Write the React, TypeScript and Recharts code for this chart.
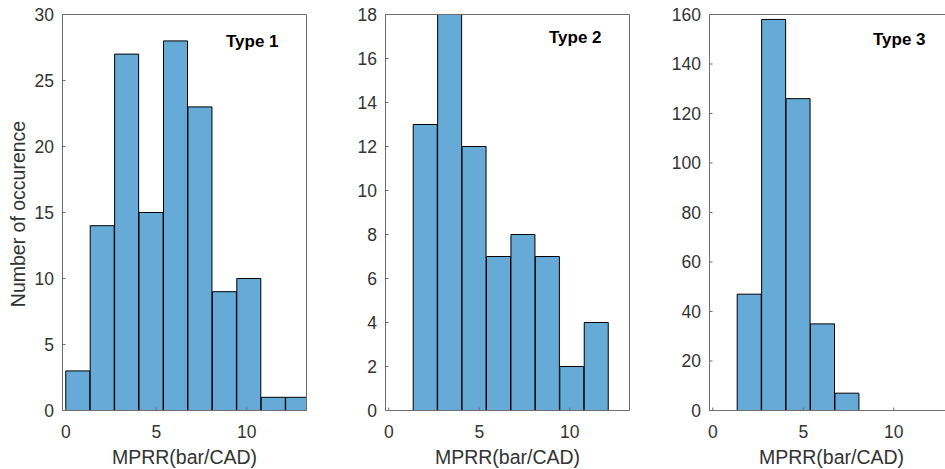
import React from 'react';
import { ComposedChart, Bar, XAxis, YAxis, ReferenceDot } from 'recharts';

// Histogram bins (MPRR, bar/CAD): bin centres and counts for each engine type
const type1Centers = [0.675, 2.025, 3.375, 4.725, 6.075, 7.425, 8.775, 10.125, 11.475, 12.825];
const type1Counts = [3, 14, 27, 15, 28, 23, 9, 10, 1, 1];

const type2Centers = [2.025, 3.375, 4.725, 6.075, 7.425, 8.775, 10.125, 11.475];
const type2Counts = [13, 18, 12, 7, 8, 7, 2, 4];

const type3Centers = [2.025, 3.375, 4.725, 6.075, 7.425];
const type3Counts = [47, 158, 126, 35, 7];

const xTicks = [0, 5, 10];
const type1YTicks = [0, 5, 10, 15, 20, 25, 30];
const type2YTicks = [0, 2, 4, 6, 8, 10, 12, 14, 16, 18];
const type3YTicks = [0, 20, 40, 60, 80, 100, 120, 140, 160];

const xDomain: [number, number] = [-0.18, 13.3];

const FONT = '"Liberation Sans", Arial, Helvetica, sans-serif';
const AXIS_COLOR = '#6e6e6e';
const TEXT_COLOR = '#333333';
const BAR_FILL = '#66aad7';

const tickStyle = { fontSize: 17.5, fill: TEXT_COLOR, fontFamily: FONT };

function YTitle(props: any) {
  const { viewBox } = props;
  const x = viewBox.x + 24.5;
  const y = viewBox.y + viewBox.height / 2 + 1.5;
  return (
    <text
      x={x}
      y={y}
      transform={`rotate(-90, ${x}, ${y})`}
      textAnchor="middle"
      fontSize={19.5}
      fill={TEXT_COLOR}
      fontFamily={FONT}
    >
      Number of occurence
    </text>
  );
}

function XTitle(props: any) {
  const { viewBox } = props;
  return (
    <text
      x={viewBox.x + viewBox.width / 2}
      y={viewBox.y + 53}
      textAnchor="middle"
      fontSize={19.5}
      fill={TEXT_COLOR}
      fontFamily={FONT}
    >
      MPRR(bar/CAD)
    </text>
  );
}

function TypeTitle(props: any) {
  const { viewBox, text } = props;
  return (
    <text
      x={viewBox.x + viewBox.width / 2}
      y={viewBox.y + viewBox.height / 2}
      dy="0.355em"
      textAnchor="start"
      fontSize={17}
      fontWeight="bold"
      fill="#000"
      fontFamily={FONT}
    >
      {text}
    </text>
  );
}

type PanelProps = {
  left: number;
  centers: number[];
  counts: number[];
  yMax: number;
  yTicks: number[];
  title: string;
  titleY: number;
  showYTitle?: boolean;
};

function HistPanel({ left, centers, counts, yMax, yTicks, title, titleY, showYTitle }: PanelProps) {
  const data = centers.map((c, i) => ({ bin: c, count: counts[i] }));
  return (
    <div style={{ position: 'absolute', left, top: 0 }}>
      <ComposedChart
        width={318}
        height={469}
        data={data}
        margin={{ top: 13.5, right: 10.5, bottom: 0, left: 0.5 }}
        barCategoryGap={0}
        barGap={0}
      >
        <XAxis
          dataKey="bin"
          type="number"
          domain={xDomain}
          allowDataOverflow
          ticks={xTicks}
          interval={0}
          height={58.5}
          tick={tickStyle}
          tickSize={-3}
          tickMargin={18.5}
          axisLine={{ stroke: AXIS_COLOR }}
          tickLine={{ stroke: AXIS_COLOR }}
          label={<XTitle />}
        />
        <XAxis
          xAxisId="top"
          orientation="top"
          dataKey="bin"
          type="number"
          domain={xDomain}
          allowDataOverflow
          ticks={xTicks}
          interval={0}
          height={1}
          tick={false}
          tickSize={-3}
          axisLine={{ stroke: AXIS_COLOR }}
          tickLine={{ stroke: AXIS_COLOR }}
        />
        <YAxis
          type="number"
          domain={[0, yMax]}
          allowDataOverflow
          ticks={yTicks}
          interval={0}
          width={62}
          tick={tickStyle}
          tickSize={-3}
          tickMargin={11.5}
          axisLine={{ stroke: AXIS_COLOR }}
          tickLine={{ stroke: AXIS_COLOR }}
          label={showYTitle ? <YTitle /> : undefined}
        />
        <YAxis
          yAxisId="right"
          orientation="right"
          type="number"
          domain={[0, yMax]}
          allowDataOverflow
          ticks={yTicks}
          interval={0}
          width={1}
          tick={false}
          tickSize={-3}
          axisLine={{ stroke: AXIS_COLOR }}
          tickLine={{ stroke: AXIS_COLOR }}
        />
        <Bar
          dataKey="count"
          fill={BAR_FILL}
          stroke="#000"
          strokeWidth={1}
          isAnimationActive={false}
        />
        <ReferenceDot
          x={8.85}
          y={titleY}
          r={1}
          fill="none"
          stroke="none"
          label={<TypeTitle text={title} />}
        />
      </ComposedChart>
    </div>
  );
}

export default function App() {
  return (
    <div
      style={{
        position: 'absolute',
        left: 0,
        top: 0,
        width: 945,
        height: 469,
        overflow: 'hidden',
        background: '#fff',
        fontFamily: FONT,
      }}
    >
      <HistPanel
        left={0}
        centers={type1Centers}
        counts={type1Counts}
        yMax={30}
        yTicks={type1YTicks}
        title="Type 1"
        titleY={28}
        showYTitle
      />
      <HistPanel
        left={323}
        centers={type2Centers}
        counts={type2Counts}
        yMax={18}
        yTicks={type2YTicks}
        title="Type 2"
        titleY={17}
      />
      <HistPanel
        left={647}
        centers={type3Centers}
        counts={type3Counts}
        yMax={160}
        yTicks={type3YTicks}
        title="Type 3"
        titleY={150}
      />
    </div>
  );
}
